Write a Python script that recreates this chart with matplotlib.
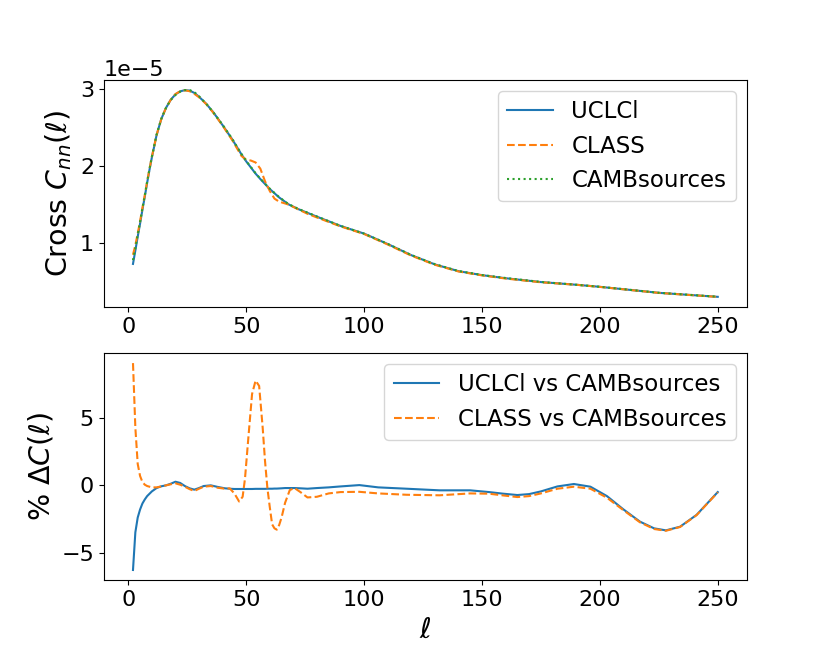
import matplotlib
matplotlib.use("Agg")
import matplotlib.pyplot as plt

# ---- top panel data (C_l in units of 1e-5) ----
ell_cl = [2, 3, 4, 5, 6, 7, 8, 9, 10, 12, 14, 16, 18, 20, 22, 24, 26, 28, 30, 33,
          36, 40, 44, 48, 50, 52, 54, 56, 58, 60, 62, 64, 66, 68, 72, 76, 80, 90,
          100, 110, 120, 130, 140, 150, 160, 175, 190, 200, 225, 250]

cl_uclcl = [0.726, 0.90, 1.08, 1.25, 1.43, 1.60, 1.78, 1.95, 2.11, 2.40, 2.61, 2.755,
            2.86, 2.93, 2.97, 2.985, 2.98, 2.95, 2.90, 2.81, 2.70, 2.53, 2.35, 2.15,
            2.06, 1.98, 1.90, 1.83, 1.765, 1.70, 1.645, 1.59, 1.545, 1.50, 1.44, 1.39,
            1.34, 1.22, 1.12, 0.985, 0.84, 0.72, 0.632, 0.58, 0.54, 0.49, 0.455, 0.428,
            0.35, 0.298]

cl_class = [0.845, 0.97, 1.12, 1.28, 1.453, 1.618, 1.794, 1.96, 2.117, 2.40, 2.61, 2.755,
            2.86, 2.935, 2.97, 2.983, 2.972, 2.938, 2.893, 2.807, 2.695, 2.525, 2.34, 2.13,
            2.08, 2.07, 2.045, 1.965, 1.80, 1.675, 1.575, 1.535, 1.517, 1.497, 1.437, 1.378,
            1.33, 1.214, 1.115, 0.979, 0.834, 0.715, 0.628, 0.577, 0.536, 0.487, 0.455, 0.427,
            0.349, 0.297]

cl_camb = [0.775, 0.93, 1.105, 1.27, 1.45, 1.617, 1.795, 1.96, 2.12, 2.405, 2.612, 2.755,
           2.857, 2.922, 2.965, 2.986, 2.987, 2.96, 2.906, 2.81, 2.70, 2.535, 2.356, 2.156,
           2.066, 1.985, 1.905, 1.835, 1.77, 1.704, 1.649, 1.594, 1.548, 1.503, 1.443, 1.393,
           1.343, 1.221, 1.12, 0.987, 0.842, 0.723, 0.634, 0.582, 0.543, 0.492, 0.455, 0.429,
           0.351, 0.2995]

# ---- bottom panel data (percent differences) ----
ell_pct = [2, 3, 4, 5, 6, 7, 8, 10, 12, 14, 16, 18, 20, 22, 24, 26, 28, 30, 32, 35,
           38, 41, 43, 45, 47, 48.5, 49.5, 51, 52.5, 54, 55.5, 57, 58, 59, 60, 61, 62,
           63, 64, 65, 66.5, 68.5, 70.5, 73, 76, 80, 85, 90, 98, 106, 118, 132, 145,
           153, 159, 165, 170, 175, 182, 189, 196, 203, 210, 217, 223, 228, 234, 241, 250]

pct_uclcl = [-6.3, -3.5, -2.4, -1.8, -1.35, -1.05, -0.8, -0.45, -0.2, -0.07, 0.0, 0.12,
             0.27, 0.18, -0.05, -0.22, -0.32, -0.2, -0.05, 0.0, -0.12, -0.22, -0.25, -0.27,
             -0.27, -0.27, -0.27, -0.27, -0.27, -0.26, -0.26, -0.26, -0.26, -0.25, -0.25,
             -0.25, -0.24, -0.24, -0.23, -0.22, -0.2, -0.2, -0.2, -0.22, -0.25, -0.2, -0.15,
             -0.08, 0.02, -0.15, -0.25, -0.37, -0.37, -0.5, -0.62, -0.72, -0.65, -0.45,
             -0.08, 0.1, -0.1, -0.8, -1.79, -2.7, -3.2, -3.35, -3.08, -2.2, -0.5]

pct_class = [9.1, 4.3, 1.6, 0.7, 0.25, 0.05, -0.05, -0.15, -0.15, -0.08, 0.0, 0.08,
             0.15, 0.05, -0.1, -0.28, -0.42, -0.25, -0.1, -0.05, -0.18, -0.25, -0.22, -0.6,
             -1.2, -0.85, 0.5, 3.7, 6.8, 7.8, 7.4, 4.3, 1.8, -0.2, -1.6, -2.9, -3.2,
             -3.3, -2.95, -2.4, -1.3, -0.35, -0.2, -0.5, -0.9, -0.85, -0.6, -0.5, -0.48,
             -0.6, -0.7, -0.74, -0.6, -0.62, -0.75, -0.87, -0.8, -0.6, -0.25, -0.1, -0.25,
             -0.92, -1.85, -2.75, -3.25, -3.38, -3.1, -2.22, -0.52]

fig, (ax1, ax2) = plt.subplots(2, 1, figsize=(8.3, 6.64), dpi=100)
fig.subplots_adjust(left=0.125, right=0.9, top=0.88, bottom=0.126, hspace=0.2)

scale = 1e-5
ax1.plot(ell_cl, [v * scale for v in cl_uclcl], color='C0', ls='-', lw=1.5, label='UCLCl')
ax1.plot(ell_cl, [v * scale for v in cl_class], color='C1', ls='--', lw=1.5, label='CLASS')
ax1.plot(ell_cl, [v * scale for v in cl_camb], color='C2', ls=':', lw=1.5, label='CAMBsources')
ax1.set_ylabel(r'Cross $C_{nn}(\ell)$', fontsize=20.5)
ax1.tick_params(labelsize=16)
ax1.yaxis.get_offset_text().set_fontsize(16)
ax1.set_xticks([0, 50, 100, 150, 200, 250])
ax1.set_yticks([1e-5, 2e-5, 3e-5])
ax1.legend(loc='upper right', fontsize=16.5)

ax2.plot(ell_pct, pct_uclcl, color='C0', ls='-', lw=1.5, label='UCLCl vs CAMBsources')
ax2.plot(ell_pct, pct_class, color='C1', ls='--', lw=1.5, label='CLASS vs CAMBsources')
ax2.set_ylabel(r'% $\Delta C(\ell)$', fontsize=20.5)
ax2.set_xlabel(r'$\ell$', fontsize=20.5)
ax2.tick_params(labelsize=16)
ax2.set_xticks([0, 50, 100, 150, 200, 250])
ax2.set_yticks([-5, 0, 5])
ax2.legend(loc='upper right', fontsize=16.5)

fig.savefig('out.png', dpi=100)
